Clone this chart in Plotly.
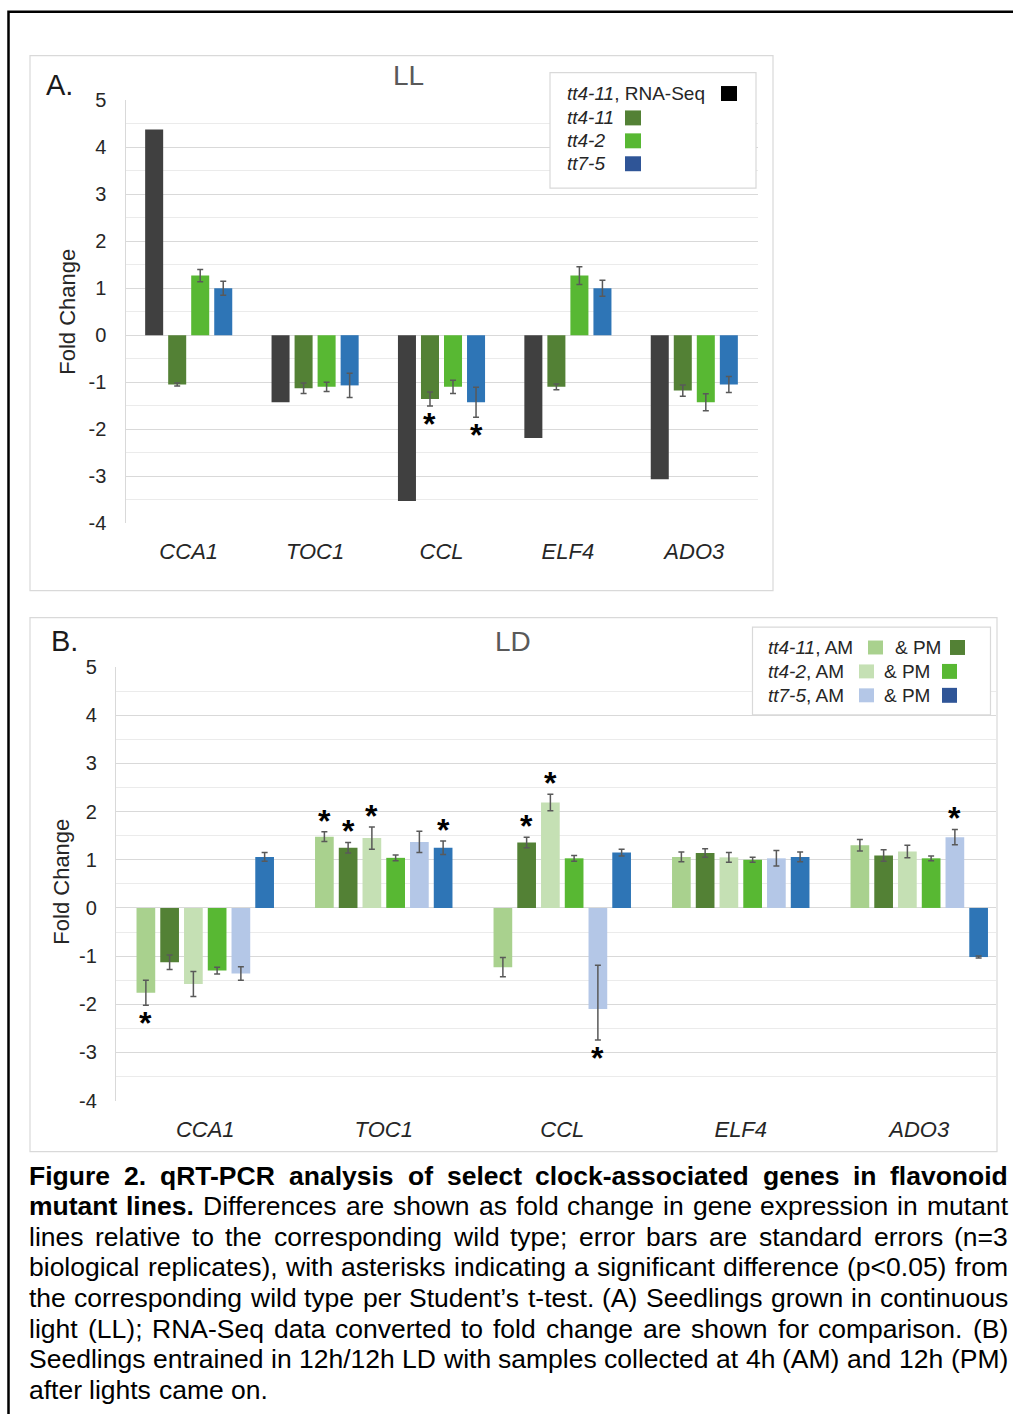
import plotly.graph_objects as go

# ---------------- data ----------------
genes = ["CCA1", "TOC1", "CCL", "ELF4", "ADO3"]
y_tick_vals = [-4, -3, -2, -1, 0, 1, 2, 3, 4, 5]
y_tick_text = ["-4", "-3", "-2", "-1", "0", "1", "2", "3", "4", "5"]

# Panel A (LL)
ll_rnaseq = [4.38, -1.43, -3.53, -2.19, -3.07]
ll_tt4_11 = [-1.05, -1.13, -1.36, -1.10, -1.18]
ll_tt4_11_err = [0.03, 0.11, 0.15, 0.06, 0.12]
ll_tt4_2 = [1.27, -1.10, -1.10, 1.27, -1.43]
ll_tt4_2_err = [0.13, 0.10, 0.14, 0.19, 0.18]
ll_tt7_5 = [1.00, -1.07, -1.43, 1.00, -1.05]
ll_tt7_5_err = [0.15, 0.26, 0.32, 0.17, 0.17]
ll_tt4_11_sig = [False, False, True, False, False]
ll_tt7_5_sig = [False, False, True, False, False]

# Panel B (LD)
ld_tt4_11_am = [-1.76, 1.48, -1.23, 1.06, 1.30]
ld_tt4_11_am_err = [0.26, 0.10, 0.20, 0.10, 0.12]
ld_tt4_11_pm = [-1.13, 1.25, 1.36, 1.14, 1.09]
ld_tt4_11_pm_err = [0.15, 0.11, 0.11, 0.09, 0.12]
ld_tt4_2_am = [-1.58, 1.45, 2.19, 1.05, 1.17]
ld_tt4_2_am_err = [0.26, 0.23, 0.17, 0.10, 0.13]
ld_tt4_2_pm = [-1.30, 1.04, 1.03, 1.00, 1.03]
ld_tt4_2_pm_err = [0.07, 0.06, 0.06, 0.05, 0.05]
ld_tt7_5_am = [-1.36, 1.37, -2.10, 1.03, 1.47]
ld_tt7_5_am_err_up = [0.14, 0.22, 0.91, 0.16, 0.16]
ld_tt7_5_am_err_down = [0.14, 0.22, 0.64, 0.16, 0.16]
ld_tt7_5_pm = [1.06, 1.25, 1.15, 1.06, -1.02]
ld_tt7_5_pm_err = [0.09, 0.14, 0.07, 0.10, 0.02]
ld_tt4_11_am_sig = [True, True, False, False, False]
ld_tt4_11_pm_sig = [False, True, True, False, False]
ld_tt4_2_am_sig = [False, True, True, False, False]
ld_tt4_2_pm_sig = [False, False, False, False, False]
ld_tt7_5_am_sig = [False, False, True, False, True]
ld_tt7_5_pm_sig = [False, True, False, False, False]

# ---------------- styles ----------------
W, H = 1013, 1414
FONT = "Liberation Sans"
C_BLACK = "#404040"
C_DKGREEN = "#538135"
C_GREEN = "#58B833"
C_BLUE = "#2E75B6"
C_LTGREEN = "#A9D18E"
C_PALEGREEN = "#C5E0B4"
C_LTBLUE = "#B4C7E7"
C_LEG_BLUE = "#2F5597"
ERR = dict(color="#595959", thickness=1.5, width=3)

# the page is photographed with a small vertical offset/scale; compensate
Y_OFF, Y_SCALE = 8.2, 0.988


def px(x):
    return x / W


def py(y):
    return 1 - ((y - Y_OFF) / Y_SCALE) / H


fig = go.Figure()
annotations = []


def add_star(xref, yref, xpos, v, ytop, ybot):
    annotations.append(dict(x=xpos, y=ytop if v > 0 else ybot, xref=xref, yref=yref,
                            text="<b>*</b>", showarrow=False,
                            font=dict(family=FONT, size=32, color="black"),
                            yshift=11 if v > 0 else -18))


# ---- panel A bars ----
catA = 126.25
pA, wA = 23 / catA, 18 / catA
seriesA = [
    (ll_rnaseq, None, C_BLACK, None),
    (ll_tt4_11, ll_tt4_11_err, C_DKGREEN, ll_tt4_11_sig),
    (ll_tt4_2, ll_tt4_2_err, C_GREEN, None),
    (ll_tt7_5, ll_tt7_5_err, C_BLUE, ll_tt7_5_sig),
]
for i, (vals, err, col, sig) in enumerate(seriesA):
    off = -2 * pA + i * pA + (pA - wA) / 2
    ey = dict(type="data", array=err, visible=True, **ERR) if err else dict(visible=False)
    fig.add_trace(go.Bar(x=genes, y=vals, marker=dict(color=col, line=dict(width=0)),
                         width=wA, offset=off, error_y=ey, xaxis="x", yaxis="y",
                         showlegend=False))
    if sig:
        for k, s in enumerate(sig):
            if s:
                add_star("x", "y", k + off + wA / 2, vals[k], vals[k] + err[k], vals[k] - err[k])

# ---- panel B bars ----
catB = 178.5
pB, wB = 23.75 / catB, 18.7 / catB
seriesB = [
    (ld_tt4_11_am, ld_tt4_11_am_err, None, C_LTGREEN, ld_tt4_11_am_sig),
    (ld_tt4_11_pm, ld_tt4_11_pm_err, None, C_DKGREEN, ld_tt4_11_pm_sig),
    (ld_tt4_2_am, ld_tt4_2_am_err, None, C_PALEGREEN, ld_tt4_2_am_sig),
    (ld_tt4_2_pm, ld_tt4_2_pm_err, None, C_GREEN, ld_tt4_2_pm_sig),
    (ld_tt7_5_am, ld_tt7_5_am_err_up, ld_tt7_5_am_err_down, C_LTBLUE, ld_tt7_5_am_sig),
    (ld_tt7_5_pm, ld_tt7_5_pm_err, None, C_BLUE, ld_tt7_5_pm_sig),
]
for i, (vals, err, errm, col, sig) in enumerate(seriesB):
    off = -3 * pB + i * pB + (pB - wB) / 2
    ey = dict(type="data", array=err, visible=True, **ERR)
    if errm:
        ey["symmetric"] = False
        ey["arrayminus"] = errm
    fig.add_trace(go.Bar(x=genes, y=vals, marker=dict(color=col, line=dict(width=0)),
                         width=wB, offset=off, error_y=ey, xaxis="x2", yaxis="y2",
                         showlegend=False))
    for k, s in enumerate(sig):
        if s:
            dn = errm[k] if errm else err[k]
            add_star("x2", "y2", k + off + wB / 2, vals[k], vals[k] + err[k], vals[k] - dn)

# ---- axes ----
GRID = "#d9d9d9"
MINOR = "#ebebeb"
TICKF = dict(family=FONT, size=20, color="#262626")
CATF = dict(family=FONT, size=22, color="#262626", style="italic")


def yaxis_cfg(dom, anchor):
    return dict(domain=dom, range=[-4, 5], tickmode="array", tickvals=y_tick_vals,
                ticktext=y_tick_text, showgrid=True, gridcolor=GRID, gridwidth=1.2,
                zeroline=True, zerolinecolor=GRID, zerolinewidth=1.2,
                showline=True, linecolor=GRID, linewidth=1.2,
                minor=dict(tickmode="linear", tick0=-4, dtick=0.5, showgrid=True,
                           gridcolor=MINOR, gridwidth=1, ticks=""),
                tickfont=TICKF, ticks="", ticklabelstandoff=14, fixedrange=True,
                anchor=anchor)


def xaxis_cfg(dom, rng, anchor):
    return dict(domain=dom, range=rng, type="category", showgrid=False, zeroline=False,
                showline=False, ticks="", tickfont=CATF, ticklabelstandoff=13,
                anchor=anchor, fixedrange=True)


layout = dict(
    width=W, height=H, margin=dict(l=0, r=0, t=0, b=0),
    paper_bgcolor="white", plot_bgcolor="white", barmode="overlay",
    xaxis=xaxis_cfg([px(125.5), px(757.5)], [-0.5, 4.5], "y"),
    yaxis=yaxis_cfg([py(522), py(98)], "x"),
    xaxis2=xaxis_cfg([px(116), px(996)], [-0.5, 4.5 - 12.5 / catB], "y2"),
    yaxis2=yaxis_cfg([py(1101.7), py(666.7)], "x2"),
    font=dict(family=FONT),
)

shapes = []
# outer black frame
shapes.append(dict(type="rect", xref="paper", yref="paper", x0=px(8.5), x1=px(1030),
                   y0=min(py(9), 0.9995), y1=py(1440), line=dict(color="black", width=2.5),
                   layer="above"))
# panel frames
for (x0, y0, x1, y1) in [(30, 53, 773, 590), (30, 617, 997, 1153)]:
    shapes.append(dict(type="rect", xref="paper", yref="paper", x0=px(x0), x1=px(x1),
                       y0=py(y0), y1=py(y1), line=dict(color="#d9d9d9", width=1.2),
                       layer="below"))
# legend boxes
for (x0, y0, x1, y1) in [(550, 70, 756, 186), (752.5, 626.5, 990.5, 714.5)]:
    shapes.append(dict(type="rect", xref="paper", yref="paper", x0=px(x0), x1=px(x1),
                       y0=py(y0), y1=py(y1), line=dict(color="#d9d9d9", width=1.2),
                       fillcolor="white", layer="above"))


def swatch(x0, yc, col, w=16, h=15):
    shapes.append(dict(type="rect", xref="paper", yref="paper", x0=px(x0), x1=px(x0 + w),
                       y0=py(yc - h / 2), y1=py(yc + h / 2), line=dict(width=0),
                       fillcolor=col, layer="above"))


def label(x, y, text, size=19, color="#262626", anchor="left", **kw):
    annotations.append(dict(x=px(x), y=py(y), xref="paper", yref="paper", text=text,
                            showarrow=False, xanchor=anchor, yanchor="middle",
                            font=dict(family=FONT, size=size, color=color), **kw))


# legend A
legA = [("<i>tt4-11</i>, RNA-Seq", 91, 721, "black"),
        ("<i>tt4-11</i>", 115.5, 625, C_DKGREEN),
        ("<i>tt4-2</i>", 138.5, 625, C_GREEN),
        ("<i>tt7-5</i>", 161.5, 625, C_LEG_BLUE)]
for t, yc, sx, col in legA:
    label(565, yc, t)
    swatch(sx, yc, col)

# legend B
legB = [("<i>tt4-11</i>, AM", 647, 868, C_LTGREEN, 893, 950, C_DKGREEN),
        ("<i>tt4-2</i>, AM", 671, 859, C_PALEGREEN, 882, 942, C_GREEN),
        ("<i>tt7-5</i>, AM", 695, 859, C_LTBLUE, 882, 942, C_LEG_BLUE)]
for t, yc, s1, c1, tx, s2, c2 in legB:
    label(766, yc, t)
    swatch(s1, yc, c1, w=15, h=14)
    label(tx, yc, "&amp; PM")
    swatch(s2, yc, c2, w=15, h=15)

# titles
label(408, 73, "LL", size=28, color="#595959", anchor="center")
label(513, 641, "LD", size=28, color="#595959", anchor="center")
label(44, 82, "A.", size=29, color="#1a1a1a")
label(49, 640, "B.", size=29, color="#1a1a1a")
label(68, 310, "Fold Change", size=22, color="#262626", anchor="center", textangle=-90)
label(62, 882, "Fold Change", size=22, color="#262626", anchor="center", textangle=-90)

# ---- caption (justified) ----
REG = dict(zip("abcdefghijklmnopqrstuvwxyz",
               [556, 556, 500, 556, 556, 278, 556, 556, 222, 222, 500, 222, 833, 556, 556,
                556, 556, 333, 500, 278, 556, 500, 722, 500, 500, 500]))
BOLD = dict(zip("abcdefghijklmnopqrstuvwxyz",
                [556, 611, 556, 611, 556, 333, 611, 611, 278, 278, 556, 278, 889, 611, 611,
                 611, 611, 389, 556, 333, 611, 556, 778, 556, 556, 500]))
UP_REG = dict(zip("ABCDEFGHIJKLMNOPQRSTUVWXYZ",
                  [667, 667, 722, 722, 667, 611, 778, 722, 278, 500, 667, 556, 833, 722, 778,
                   667, 778, 722, 667, 611, 722, 667, 944, 667, 667, 611]))
UP_BOLD = dict(zip("ABCDEFGHIJKLMNOPQRSTUVWXYZ",
                   [722, 722, 722, 722, 667, 611, 778, 722, 278, 556, 722, 611, 833, 722, 778,
                    667, 778, 722, 667, 611, 722, 667, 944, 667, 667, 611]))
PUNCT = {" ": 278, ".": 278, ",": 278, ";": 278, ":": 278, "(": 333, ")": 333, "-": 333,
         "=": 584, "<": 584, "/": 278, "\u2019": 222}
for d in "0123456789":
    PUNCT[d] = 556


def tw(s, bold, size):
    tot = 0
    for ch in s:
        if ch in PUNCT:
            tot += 333 if (bold and ch in ";:") else PUNCT[ch]
        elif ch.islower():
            tot += (BOLD if bold else REG).get(ch, 556)
        else:
            tot += (UP_BOLD if bold else UP_REG).get(ch, 667)
    return tot * size / 1000


caption_lines = [
    [("Figure 2. qRT-PCR analysis of select clock-associated genes in flavonoid", True)],
    [("mutant lines.", True), ("Differences are shown as fold change in gene expression in mutant", False)],
    [("lines relative to the corresponding wild type; error bars are standard errors (n=3", False)],
    [("biological replicates), with asterisks indicating a significant difference (p<0.05) from", False)],
    [("the corresponding wild type per Student\u2019s t-test. (A) Seedlings grown in continuous", False)],
    [("light (LL); RNA-Seq data converted to fold change are shown for comparison. (B)", False)],
    [("Seedlings entrained in 12h/12h LD with samples collected at 4h (AM) and 12h (PM)", False)],
    [("after lights came on.", False)],
]
CAP_SIZE = 26.5
CAP_X0, CAP_X1 = 28, 1007
CAP_Y0, CAP_DY = 1177, 30.7
for li, segs in enumerate(caption_lines):
    words = []
    for txt, b in segs:
        for wd in txt.split(" "):
            words.append((wd, b))
    widths = [tw(wd, b, CAP_SIZE) for wd, b in words]
    last = li == len(caption_lines) - 1
    if last or len(words) < 2:
        gap = tw(" ", False, CAP_SIZE)
    else:
        gap = (CAP_X1 - CAP_X0 - sum(widths)) / (len(words) - 1)
    x = CAP_X0
    yc = CAP_Y0 + li * CAP_DY
    for (wd, b), wdt in zip(words, widths):
        txt = wd.replace("<", "&lt;")
        if b:
            txt = "<b>" + txt + "</b>"
        annotations.append(dict(x=px(x - 1), y=py(yc), xref="paper", yref="paper", text=txt,
                                showarrow=False, xanchor="left", yanchor="middle",
                                font=dict(family=FONT, size=CAP_SIZE, color="black")))
        x += wdt + gap

layout["shapes"] = shapes
layout["annotations"] = annotations
fig.update_layout(**layout)
fig.write_html("out.html", config={"displayModeBar": False})
